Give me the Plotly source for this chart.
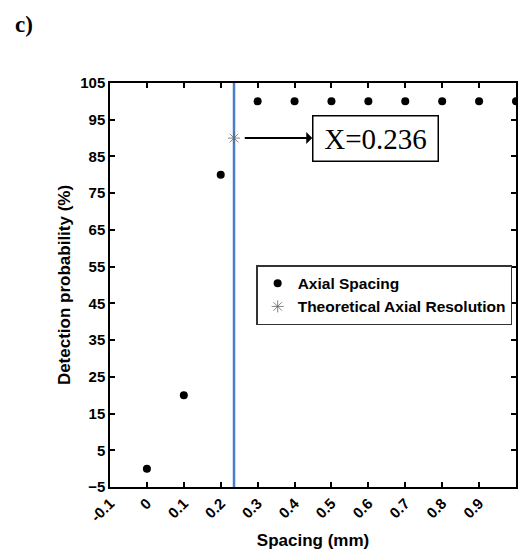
import plotly.graph_objects as go

spacing = [0.0, 0.1, 0.2, 0.3, 0.4, 0.5, 0.6, 0.7, 0.8, 0.9, 1.0]
detection = [0, 20, 80, 100, 100, 100, 100, 100, 100, 100, 100]
res_x = [0.236]
res_y = [90]
x_ticks = [-0.1, 0, 0.1, 0.2, 0.3, 0.4, 0.5, 0.6, 0.7, 0.8, 0.9, 1.0]
x_labels = ["-0.1", "0", "0.1", "0.2", "0.3", "0.4", "0.5", "0.6", "0.7", "0.8", "0.9", "1"]
y_ticks = [-5, 5, 15, 25, 35, 45, 55, 65, 75, 85, 95, 105]

fig = go.Figure()
fig.add_trace(go.Scatter(
    x=spacing, y=detection, mode="markers", name="Axial Spacing",
    marker=dict(color="black", size=8, symbol="circle"),
))
fig.add_trace(go.Scatter(
    x=res_x, y=res_y, mode="markers", name="Theoretical Axial Resolution",
    marker=dict(symbol="asterisk-open", size=10, color="#666666",
                line=dict(color="#666666", width=0.8)),
))
fig.add_shape(type="line", x0=res_x[0], x1=res_x[0], y0=0, y1=1,
              xref="x", yref="paper", line=dict(color="#4a7ec8", width=2.5),
              layer="below")

fig.add_annotation(
    x=0.265, y=res_y[0], xref="x", yref="y",
    ax=0.618, ay=res_y[0], axref="x", ayref="y",
    text="X=0.236", showarrow=True, arrowside="start",
    arrowhead=2, arrowsize=1, arrowwidth=2, arrowcolor="black",
    font=dict(family="Liberation Serif", size=29, color="black"),
    bordercolor="black", borderwidth=1.5, borderpad=6, width=112,
    bgcolor="white", standoff=0, startstandoff=0,
)

fig.add_annotation(
    x=-0.239, y=1.1436, xref="paper", yref="paper", text="<b>c)</b>",
    showarrow=False, xanchor="left", yanchor="middle",
    font=dict(family="Liberation Serif", size=23, color="black"),
)

axis_common = dict(
    showline=True, linecolor="black", linewidth=1.5, mirror="ticks",
    ticks="inside", ticklen=5, tickwidth=1.5, tickcolor="black",
    showgrid=False, zeroline=False, automargin=False,
    tickfont=dict(family="Liberation Sans", size=15, color="black", weight="bold"),
    title_font=dict(family="Liberation Sans", size=17, color="black", weight="bold"),
)

fig.update_xaxes(range=[-0.1, 1.0], tickvals=x_ticks, ticktext=x_labels,
                 tickangle=-45, title_text="Spacing (mm)", title_standoff=10,
                 **axis_common)
fig.update_yaxes(range=[-5, 105], tickvals=y_ticks,
                 title_text="Detection probability (%)", title_standoff=5,
                 **axis_common)

fig.update_layout(
    width=519, height=554,
    margin=dict(l=110, r=3, t=83, b=67, autoexpand=False),
    plot_bgcolor="white", paper_bgcolor="white",
    legend=dict(x=0.36, y=0.549, xanchor="left", yanchor="top",
                bordercolor="#333333", borderwidth=1.5, bgcolor="white",
                font=dict(family="Liberation Sans", size=15.5, color="black", weight="bold"),
                tracegroupgap=0, itemwidth=30),
    showlegend=True,
)

fig.write_html(
    "out.html",
    config={"displayModeBar": False},
    post_script="document.body.style.margin='0';document.body.style.overflow='hidden';",
)
